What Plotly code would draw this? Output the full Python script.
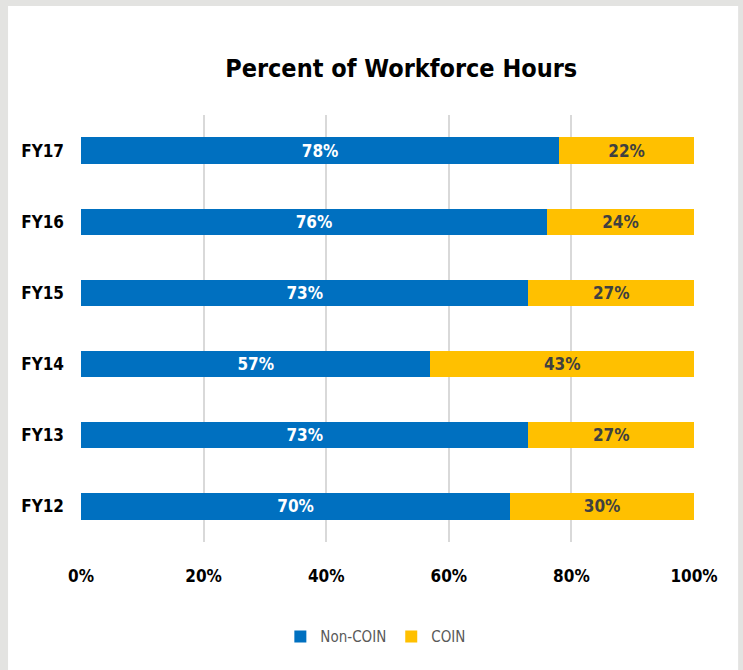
import plotly.graph_objects as go

years = ['FY12', 'FY13', 'FY14', 'FY15', 'FY16', 'FY17']
non_coin = [70, 73, 57, 73, 76, 78]
coin = [30, 27, 43, 27, 24, 22]
pct_ticks = [0, 20, 40, 60, 80, 100]

FONT = 'DejaVu Sans Condensed, DejaVu Sans, sans-serif'

fig = go.Figure()
fig.add_trace(go.Bar(
    y=years, x=non_coin, name='Non-COIN', orientation='h',
    marker=dict(color='#0070C0', line=dict(width=0)),
    text=[f'{v}%' for v in non_coin], textposition='inside', insidetextanchor='middle',
    textfont=dict(color='white', size=17, family=FONT, weight='bold'),
))
fig.add_trace(go.Bar(
    y=years, x=coin, name='COIN', orientation='h',
    marker=dict(color='#FFC000', line=dict(width=0)),
    text=[f'{v}%' for v in coin], textposition='inside', insidetextanchor='middle',
    textfont=dict(color='#404040', size=17, family=FONT, weight='bold'),
))

# white card on gray page
fig.add_shape(type='rect', xref='paper', yref='paper', layer='below',
              x0=-0.119, x1=1.072, y0=-0.35, y1=1.255,
              fillcolor='white', line=dict(width=0))

fig.update_layout(
    barmode='stack',
    bargap=0.63,
    width=743, height=670,
    margin=dict(l=81, r=49, t=115, b=128),
    paper_bgcolor='#e3e3e1',
    plot_bgcolor='white',
    title=dict(text='<b>Percent of Workforce Hours</b>', x=0.54, xanchor='center',
               y=0.898, yanchor='middle',
               font=dict(size=25, color='black', family=FONT)),
    xaxis=dict(range=[0, 100], tickvals=pct_ticks, ticktext=[f'{v}%' for v in pct_ticks],
               showgrid=True, gridcolor='#d9d9d9', gridwidth=2, zeroline=False,
               tickfont=dict(size=17, color='black', family=FONT, weight='bold'),
               ticklabelstandoff=22, fixedrange=True),
    yaxis=dict(showgrid=False, zeroline=False, showline=False,
               tickfont=dict(size=17, color='black', family=FONT, weight='bold'),
               ticklabelstandoff=16, fixedrange=True),
    legend=dict(orientation='h', x=0.481, xanchor='center', y=-0.222, yanchor='middle',
                bgcolor='rgba(0,0,0,0)',
                font=dict(size=15, color='#595959', family=FONT),
                itemwidth=30, traceorder='normal'),
)

fig.write_html('out.html', config={'displayModeBar': False},
               post_script="document.body.style.margin='0';")
